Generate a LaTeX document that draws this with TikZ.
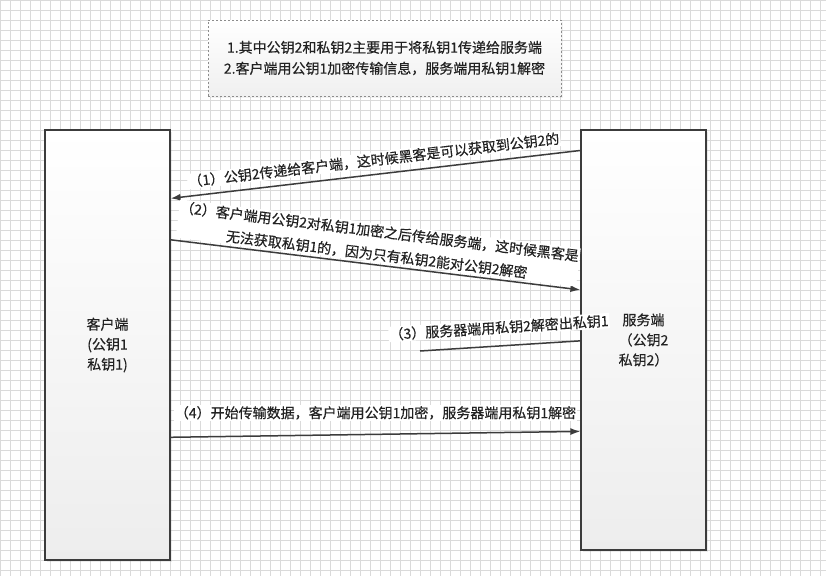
\documentclass[tikz,border=0pt]{standalone}
\usepackage{fontspec}
\setmainfont{Noto Sans CJK SC}[FakeBold=0.4]
\usetikzlibrary{arrows.meta,calc,shadows}

\definecolor{gridgray}{HTML}{DADADA}
\definecolor{linegray}{HTML}{3C3C3C}
\definecolor{textgray}{HTML}{222222}

\tikzset{
  gridline/.style={gridgray, line width=0.5pt},
  endbox/.style={draw=linegray, line width=1.2pt, top color=white, bottom color=black!7,
    minimum width=125pt, align=center, text=textgray,
    font=\fontsize{14pt}{20pt}\selectfont,
    drop shadow={shadow xshift=2pt, shadow yshift=-2pt, opacity=0.15}},
  notebox/.style={draw=black!45, dashed, dash pattern=on 2pt off 2pt, line width=0.7pt,
    top color=white, bottom color=black!6, minimum width=353pt, minimum height=76pt,
    align=center, text=textgray, font=\fontsize{14pt}{21pt}\selectfont,
    drop shadow={shadow xshift=1.5pt, shadow yshift=-1.5pt, opacity=0.1}},
  msgline/.style={linegray, line width=1.5pt},
  msglabel/.style={fill=white, inner sep=1pt, align=center, text=textgray,
    font=\fontsize{14pt}{23pt}\selectfont}
}

\begin{document}
\begin{tikzpicture}[x=1pt, y=-1pt]
  \useasboundingbox (0,0) rectangle (826,576);

  % --- Grid ---
  \fill[white] (0,0) rectangle (826,576);
  \foreach \gx in {0,10,...,820} {
    \draw[gridline] (\gx,0) -- (\gx,576);
  }
  \foreach \gy in {0,10,...,570} {
    \draw[gridline] (0,\gy) -- (826,\gy);
  }

  % --- Note ---
  \node[notebox] (note) at (384.5,58)
    {1.其中公钥2和私钥2主要用于将私钥1传递给服务端\\2.客户端用公钥1加密传输信息，服务端用私钥1解密};

  % --- Client and server ---
  \node[endbox, minimum height=430pt] (client) at (107.5,345) {客户端\\(公钥1\\私钥1)};
  \node[endbox, minimum height=420pt] (server) at (643.5,340) {服务端\\（公钥2\\私钥2）};

  % --- Messages ---
  \draw[msgline, {Latex[length=10pt,width=7pt]}-]
    ($(client.north east)!0.16!(client.south east)$) -- ($(server.north west)!0.05!(server.south west)$)
    node[msglabel, midway, sloped, above=6pt] {（1）公钥2传递给客户端，这时候黑客是可以获取到公钥2的};

  \draw[msgline, -{Latex[length=10pt,width=7pt]}]
    ($(client.north east)!0.256!(client.south east)$) -- ($(server.north west)!0.381!(server.south west)$)
    node[msglabel, midway, sloped, above=2pt] {（2）客户端用公钥2对私钥1加密之后传给服务端，这时候黑客是\\无法获取私钥1的，因为只有私钥2能对公钥2解密};

  \coordinate (decrypt) at (420,351);
  \draw[msgline]
    (decrypt) -- ($(server.north west)!0.502!(server.south west)$)
    node[msglabel, midway, sloped, above=10pt] {（3）服务器端用私钥2解密出私钥1};

  \draw[msgline, -{Latex[length=10pt,width=7pt]}]
    ($(client.north east)!0.714!(client.south east)$) -- ($(server.north west)!0.717!(server.south west)$)
    node[msglabel, midway, above=13pt] {（4）开始传输数据，客户端用公钥1加密，服务器端用私钥1解密};

\end{tikzpicture}
\end{document}
